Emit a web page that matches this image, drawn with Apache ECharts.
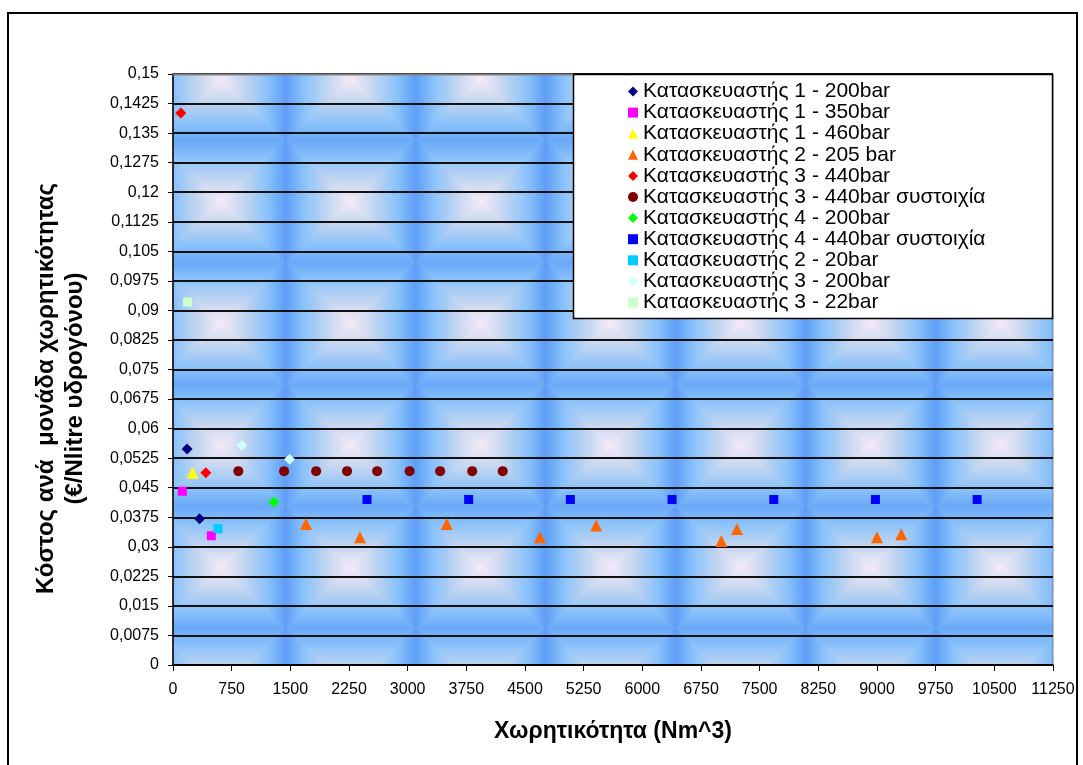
<!DOCTYPE html>
<html><head><meta charset="utf-8">
<script src="https://cdn.jsdelivr.net/npm/echarts@6/dist/echarts.min.js"></script>
<style>html,body{margin:0;padding:0;background:#fff}#c{width:1083px;height:765px}</style>
</head><body><div id="c"></div>
<script>
// ---- data ----
const seriesNames = [
  'Κατασκευαστής 1 - 200bar',
  'Κατασκευαστής 1 - 350bar',
  'Κατασκευαστής 1 - 460bar',
  'Κατασκευαστής 2 - 205 bar',
  'Κατασκευαστής 3 - 440bar',
  'Κατασκευαστής 3 - 440bar συστοιχία',
  'Κατασκευαστής 4 - 200bar',
  'Κατασκευαστής 4 - 440bar συστοιχία',
  'Κατασκευαστής 2 - 20bar',
  'Κατασκευαστής 3 - 200bar',
  'Κατασκευαστής 3 - 22bar'
];
const m1_200 = [[180, 0.0548], [340, 0.0371]];
const m1_350 = [[120, 0.0441], [490, 0.0328]];
const m1_460 = [[250, 0.0488]];
const m2_205 = [[1700, 0.0358], [2390, 0.0324], [3500, 0.0358], [4690, 0.0324], [5410, 0.0354], [7010, 0.0315], [7210, 0.0345], [9000, 0.0324], [9310, 0.0332]];
const m3_440 = [[100, 0.1401], [420, 0.0488]];
const m3_440s = [[835, 0.0492], [1420, 0.0492], [1830, 0.0492], [2225, 0.0492], [2610, 0.0492], [3025, 0.0492], [3415, 0.0492], [3825, 0.0492], [4215, 0.0492]];
const m4_200 = [[1290, 0.0414]];
const m4_440s = [[2480, 0.042], [3780, 0.042], [5080, 0.042], [6380, 0.042], [7680, 0.042], [8980, 0.042], [10280, 0.042]];
const m2_20 = [[575, 0.0346]];
const m3_200 = [[880, 0.0557], [1490, 0.0522]];
const m3_22 = [[185, 0.0921]];

const xMin = 0, xMax = 11250, xStep = 750;
const yMin = 0, yMax = 0.15, yStep = 0.0075;
const xTitle = 'Χωρητικότητα (Nm^3)';
const yTitle = 'Κόστος ανά  μονάδα χωρητικότητας\n(€/Nlitre υδρογόνου)';

const seriesData = [m1_200, m1_350, m1_460, m2_205, m3_440, m3_440s, m4_200, m4_440s, m2_20, m3_200, m3_22];
const colors = ['#000080', '#FF00FF', '#FFFF00', '#FF6600', '#FF0000', '#800000', '#00FF00', '#0000FF', '#00CCFF', '#CCFFFF', '#CCFFCC'];
const symbols = ['diamond', 'rect', 'triangle', 'triangle', 'diamond', 'circle', 'diamond', 'rect', 'rect', 'diamond', 'rect'];
const symSize = {diamond: 11, rect: 9, triangle: 12, circle: 10};

// ---- background texture tile ----
function makeTile() {
  const W = 130, H = 122, cx = 90, cy = 79;
  const cv = document.createElement('canvas');
  cv.width = W; cv.height = H;
  const ctx = cv.getContext('2d');
  const img = ctx.createImageData(W, H);
  const C0 = [246, 234, 248], C1 = [196, 214, 240], C2 = [138, 194, 250];
  const Eside = [94, 158, 247], Etop = [106, 168, 248];
  const lerp = (a, b, t) => [a[0] + (b[0] - a[0]) * t, a[1] + (b[1] - a[1]) * t, a[2] + (b[2] - a[2]) * t];
  for (let j = 0; j < H; j++) {
    for (let i = 0; i < W; i++) {
      const dx = (((i - cx + W / 2) % W) + W) % W - W / 2;
      const dy = (((j - cy + H / 2) % H) + H) % H - H / 2;
      const u = Math.abs(dx) / (W / 2), v = Math.abs(dy) / (H / 2);
      let t, e;
      if (u >= v) { t = u; e = Eside; } else { t = v; e = Etop; }
      let c;
      if (t < 0.35) c = lerp(C0, C1, t / 0.35);
      else if (t < 0.72) c = lerp(C1, C2, (t - 0.35) / 0.37);
      else c = lerp(C2, e, (t - 0.72) / 0.28);
      const k = (j * W + i) * 4;
      img.data[k] = c[0]; img.data[k + 1] = c[1]; img.data[k + 2] = c[2]; img.data[k + 3] = 255;
    }
  }
  ctx.putImageData(img, 0, 0);
  return cv;
}

const chart = echarts.init(document.getElementById('c'), null, {renderer: 'canvas'});
const FONT = 'Liberation Sans, Arial, sans-serif';

const series = seriesNames.map((n, i) => ({
  name: n,
  type: 'scatter',
  data: seriesData[i],
  symbol: symbols[i],
  symbolSize: symSize[symbols[i]],
  itemStyle: {color: colors[i], opacity: 1},
  z: 5
}));

chart.setOption({
  animation: false,
  backgroundColor: '#ffffff',
  grid: {
    left: 173, right: 30, top: 74, bottom: 100,
    show: true,
    backgroundColor: {image: makeTile(), repeat: 'repeat'},
    borderColor: '#808080', borderWidth: 1
  },
  xAxis: {
    type: 'value', min: xMin, max: xMax, interval: xStep,
    name: xTitle, nameLocation: 'middle', nameGap: 55,
    nameTextStyle: {fontFamily: FONT, fontSize: 23, fontWeight: 'bold', color: '#000'},
    axisLine: {show: true, onZero: false, lineStyle: {color: '#000', width: 1.5}},
    axisTick: {show: true, inside: false, length: 6, lineStyle: {color: '#000', width: 1}},
    axisLabel: {fontFamily: FONT, fontSize: 16, color: '#000', margin: 17, formatter: v => String(v)},
    splitLine: {show: false}
  },
  yAxis: {
    type: 'value', min: yMin, max: yMax, interval: yStep,
    name: yTitle, nameLocation: 'middle', nameGap: 83, nameRotate: 90,
    nameTextStyle: {fontFamily: FONT, fontSize: 24, fontWeight: 'bold', color: '#000', lineHeight: 29, align: 'center', padding: [0, 38, 0, 0]},
    axisLine: {show: true, lineStyle: {color: '#000', width: 1.5}},
    axisTick: {show: true, inside: false, length: 5, lineStyle: {color: '#000', width: 1}},
    axisLabel: {
      fontFamily: FONT, fontSize: 16, color: '#000', margin: 14,
      formatter: v => String(Number(v.toFixed(4))).replace('.', ',')
    },
    splitLine: {show: true, lineStyle: {color: '#111', width: 2}}
  },
  legend: {
    orient: 'vertical', left: 628, top: 81, padding: 0,
    itemWidth: 10, itemHeight: 10, itemGap: 0.1,
    textStyle: {fontFamily: FONT, fontSize: 21, color: '#000', lineHeight: 20},
    data: seriesNames,
    z: 20
  },
  graphic: [
    {type: 'line', z: 12, silent: true, shape: {x1: 173, y1: 74.5, x2: 574, y2: 74.5},
     style: {stroke: '#808080', lineWidth: 2}},
    {type: 'rect', z: 15, shape: {x: 573.5, y: 74.5, width: 479, height: 244},
     style: {fill: '#fff', stroke: '#000', lineWidth: 1.5}},
    {type: 'rect', z: -1, silent: true, shape: {x: 8, y: 13, width: 1069, height: 800},
     style: {fill: 'none', stroke: '#000', lineWidth: 2}}
  ],
  series: series
});
</script>
</body></html>
